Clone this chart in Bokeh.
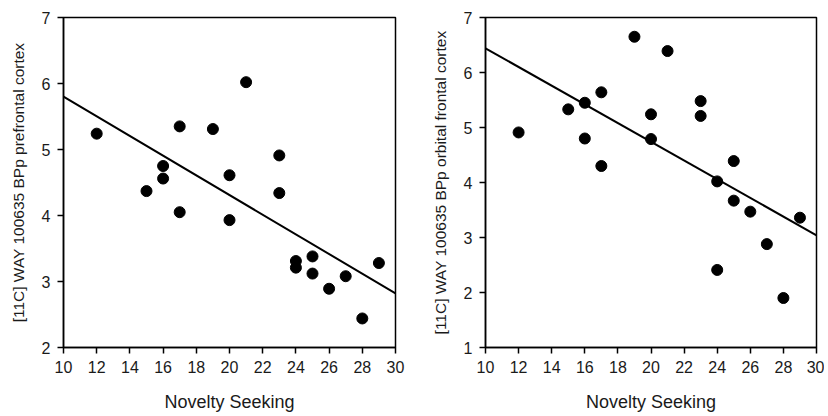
from bokeh.plotting import figure
from bokeh.layouts import row
from bokeh.models import Range1d, FixedTicker
from bokeh.embed import file_html
from bokeh.resources import INLINE

# ---- data ----
ns_left = [12, 15, 16, 16, 17, 17, 19, 20, 20, 21, 23, 23, 24, 24, 25, 25, 26, 27, 28, 29]
bp_prefrontal = [5.24, 4.37, 4.75, 4.56, 5.35, 4.05, 5.31, 4.61, 3.93, 6.02,
                 4.91, 4.34, 3.31, 3.21, 3.38, 3.12, 2.89, 3.08, 2.44, 3.28]

ns_right = [12, 15, 16, 16, 17, 17, 19, 20, 20, 21, 23, 23, 24, 24, 25, 25, 26, 27, 28, 29]
bp_orbital = [4.91, 5.33, 5.45, 4.80, 5.64, 4.30, 6.65, 5.24, 4.79, 6.39,
              5.48, 5.21, 4.02, 2.41, 4.39, 3.67, 3.47, 2.88, 1.90, 3.36]

fit_x = [10, 30]
fit_prefrontal = [5.80, 2.82]
fit_orbital = [6.44, 3.04]

x_ticks = [10, 12, 14, 16, 18, 20, 22, 24, 26, 28, 30]
y_ticks_left = [2, 3, 4, 5, 6, 7]
y_ticks_right = [1, 2, 3, 4, 5, 6, 7]

FONT = "Liberation Sans"
TXT = "#1a1a1a"


def make_panel(xs, ys, fx, fy, ylo, yhi, yticks, ylabel, width, bl, br):
    p = figure(width=width, height=414, output_backend="svg", toolbar_location=None,
               x_range=Range1d(10, 30), y_range=Range1d(ylo, yhi),
               min_border_left=bl, min_border_right=br, min_border_top=17,
               min_border_bottom=60)
    p.xgrid.visible = False
    p.ygrid.visible = False
    p.outline_line_color = "black"
    p.outline_line_width = 1.5
    p.background_fill_color = "white"
    p.border_fill_color = "white"

    p.line(fx, fy, line_color="black", line_width=2)
    p.scatter(xs, ys, size=11, fill_color="black", line_color="black")

    p.xaxis.ticker = FixedTicker(ticks=x_ticks)
    p.yaxis.ticker = FixedTicker(ticks=yticks)
    for ax in (p.xaxis[0], p.yaxis[0]):
        ax.axis_line_color = "black"
        ax.axis_line_width = 1.5
        ax.major_tick_line_color = "black"
        ax.major_tick_line_width = 1.5
        ax.major_tick_out = 6
        ax.major_tick_in = 0
        ax.minor_tick_line_color = None
        ax.major_label_text_font = FONT
        ax.major_label_text_font_size = "16px"
        ax.major_label_text_color = TXT
        ax.axis_label_text_font = FONT
        ax.axis_label_text_font_style = "normal"
        ax.axis_label_text_color = TXT
        ax.major_label_standoff = 7
    p.xaxis.axis_label = "Novelty Seeking"
    p.xaxis.axis_label_text_font_size = "18px"
    p.xaxis.axis_label_standoff = 16
    p.yaxis.axis_label = ylabel
    p.yaxis.axis_label_text_font_size = "15.5px"
    p.yaxis.axis_label_standoff = 12
    return p


p1 = make_panel(ns_left, bp_prefrontal, fit_x, fit_prefrontal, 2, 7, y_ticks_left,
                "[11C] WAY 100635 BPp prefrontal cortex", 414, 63, 19)
p2 = make_panel(ns_right, bp_orbital, fit_x, fit_orbital, 1, 7, y_ticks_right,
                "[11C] WAY 100635 BPp orbital frontal cortex", 410, 71, 8)

layout = row(p1, p2)
open("out.html", "w").write(file_html(layout, INLINE))
